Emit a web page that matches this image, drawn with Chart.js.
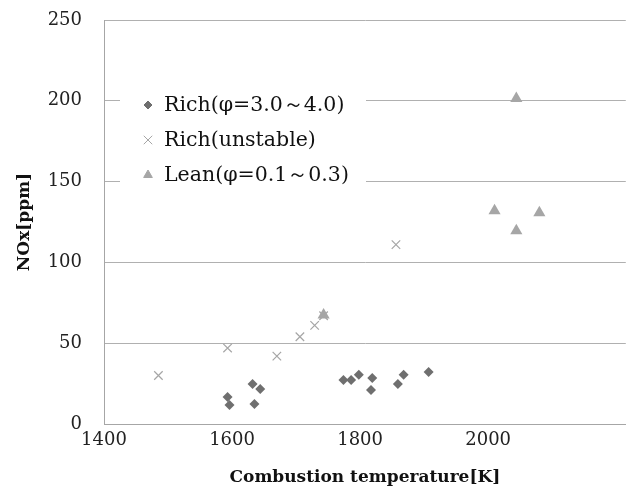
<!DOCTYPE html>
<html>
<head>
<meta charset="utf-8">
<script src="https://cdn.jsdelivr.net/npm/chart.js@4.4.0/dist/chart.umd.min.js"></script>
<style>
	html, body { margin: 0; padding: 0; background: #fff; }
	#wrap { width: 633px; height: 488px; }
</style>
</head>
<body>
<div id="wrap"><canvas id="myChart" width="633" height="488"></canvas></div>
<script>
// data
var seriesNames = ['Rich(φ=3.0～4.0)', 'Rich(unstable)', 'Lean(φ=0.1～0.3)'];

var richTemp = [1593, 1596, 1632, 1635, 1644, 1774, 1786, 1798, 1819, 1817, 1859, 1868, 1907];
var richNOx = [16.7, 11.8, 24.8, 12.4, 21.7, 27.3, 27.3, 30.4, 28.5, 21.1, 24.8, 30.4, 32.2];

var unstableTemp = [1485, 1593, 1670, 1706, 1729, 1743, 1856];
var unstableNOx = [30, 47, 42, 54, 61, 67, 111];

var leanTemp = [1743, 2010, 2044, 2044, 2080];
var leanNOx = [67.5, 132, 201.5, 119.6, 130.7];

var xTicks = [1400, 1600, 1800, 2000];
var yTicks = [0, 50, 100, 150, 200, 250];

function toPoints(xs, ys) {
	let pts = [];
	for (let i = 0; i < xs.length; i++) {
		pts.push({ x: xs[i], y: ys[i] });
	}
	return pts;
}

// legend drawn inside the plot, on a white box
var innerLegend = {
	id: 'innerLegend',
	afterDraw: function (chart) {
		let ctx = chart.ctx;
		ctx.save();
		ctx.fillStyle = '#fff';
		ctx.fillRect(120, 86, 246, 108);
		let rowY = [105, 140, 175];
		chart.data.datasets.forEach(function (ds, i) {
			ctx.fillStyle = ds.backgroundColor;
			ctx.strokeStyle = ds.borderColor;
			ctx.lineWidth = 1;
			Chart.helpers.drawPoint(ctx, {
				pointStyle: ds.pointStyle,
				radius: ds.legendRadius,
				rotation: 0,
				borderWidth: 1
			}, 148, rowY[i]);
			ctx.fillStyle = '#111';
			ctx.font = '20.5px "DejaVu Serif"';
			ctx.textBaseline = 'middle';
			ctx.textAlign = 'left';
			ctx.fillText(ds.label, 164, rowY[i] + 1);
		});
		ctx.restore();
	}
};

var flightChart = new Chart(document.getElementById('myChart'), {
	type: 'scatter',
	data: {
		datasets: [{
			label: seriesNames[0],
			data: toPoints(richTemp, richNOx),
			pointStyle: 'rectRot',
			pointRadius: 5,
			legendRadius: 4,
			backgroundColor: '#6f6f6f',
			borderColor: '#6f6f6f',
			borderWidth: 0
		}, {
			label: seriesNames[1],
			data: toPoints(unstableTemp, unstableNOx),
			pointStyle: 'crossRot',
			pointRadius: 6,
			legendRadius: 6,
			backgroundColor: '#a6a6a6',
			borderColor: '#a6a6a6',
			borderWidth: 1.2
		}, {
			label: seriesNames[2],
			data: toPoints(leanTemp, leanNOx),
			pointStyle: 'triangle',
			pointRadius: 7,
			legendRadius: 5,
			backgroundColor: '#a6a6a6',
			borderColor: '#a6a6a6',
			borderWidth: 0
		}]
	},
	options: {
		responsive: false,
		animation: false,
		layout: { padding: { top: 20, right: 0, left: 0, bottom: 0 } },
		plugins: {
			legend: { display: false },
			tooltip: { enabled: false }
		},
		scales: {
			x: {
				type: 'linear',
				min: 1400,
				max: 2215,
				afterBuildTicks: function (s) {
					s.ticks = xTicks.map(function (v) { return { value: v }; });
				},
				afterFit: function (s) { s.height = 64; },
				grid: { display: false, drawTicks: false },
				border: { color: '#a6a6a6', width: 1 },
				ticks: {
					color: '#222',
					font: { family: 'DejaVu Serif', size: 18 },
					padding: 6,
					maxRotation: 0,
					callback: function (v) { return String(v); }
				},
				title: {
					display: true,
					text: 'Combustion temperature[K]',
					color: '#111',
					font: { family: 'DejaVu Serif', size: 17, weight: 'bold' },
					padding: { top: 3, bottom: 0 }
				}
			},
			y: {
				min: 0,
				max: 250,
				afterBuildTicks: function (s) {
					s.ticks = yTicks.map(function (v) { return { value: v }; });
				},
				afterFit: function (s) { s.width = 104; },
				grid: {
					color: '#b0b0b0',
					lineWidth: 1,
					drawTicks: true,
					tickLength: 18,
					tickColor: 'rgba(0,0,0,0)'
				},
				border: { color: '#a6a6a6', width: 1 },
				ticks: {
					color: '#222',
					font: { family: 'DejaVu Serif', size: 18 },
					padding: 4,
					callback: function (v) { return String(v); }
				},
				title: {
					display: true,
					text: 'NOx[ppm]',
					color: '#111',
					font: { family: 'DejaVu Serif', size: 17, weight: 'bold' },
					padding: { top: 14, bottom: 0 }
				}
			}
		}
	},
	plugins: [innerLegend]
});
</script>
</body>
</html>
